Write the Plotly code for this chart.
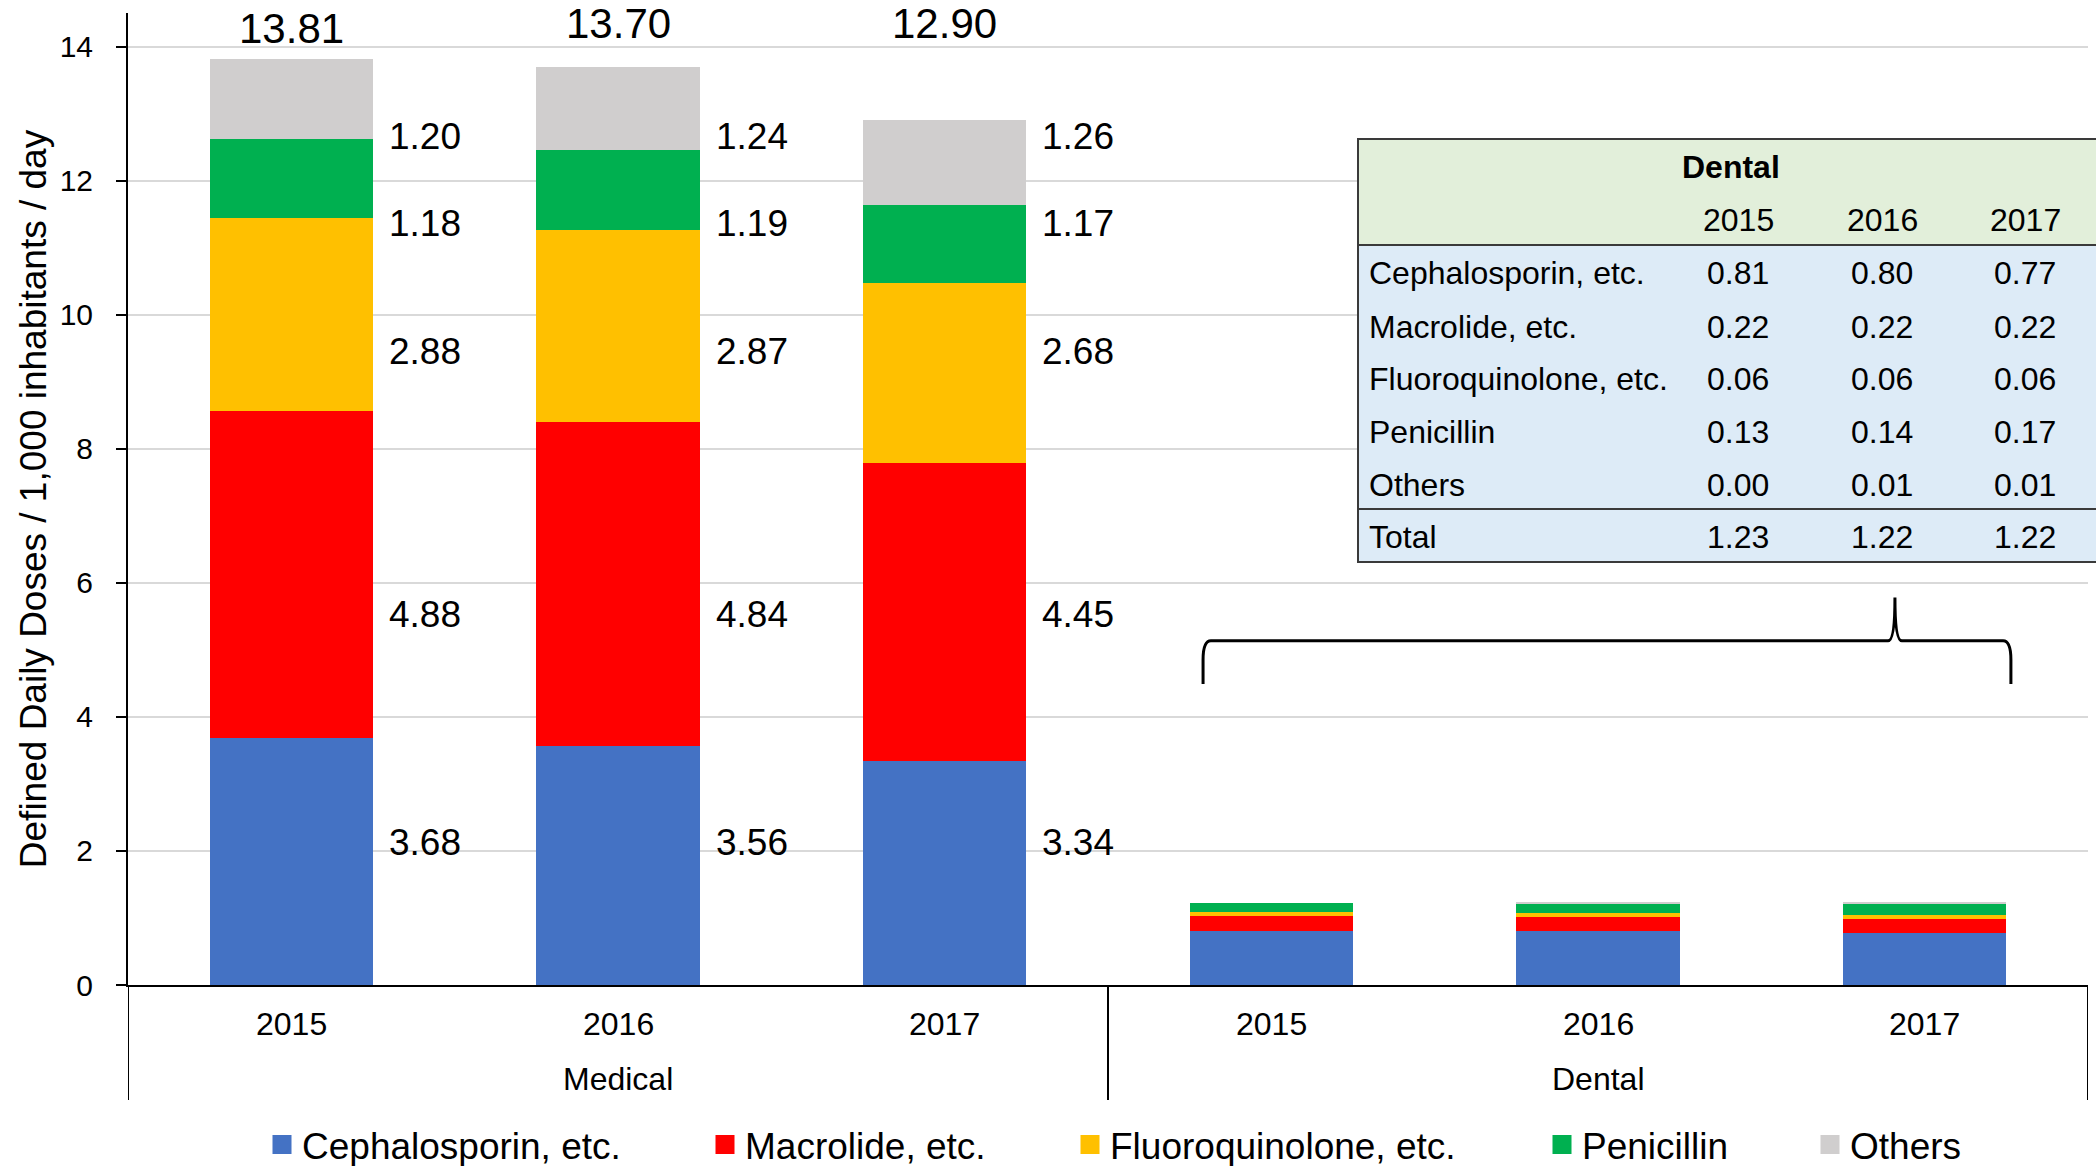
import plotly.graph_objects as go

# ---- data -------------------------------------------------------------
groups = ["Medical", "Medical", "Medical", "Dental", "Dental", "Dental"]
years = ["2015", "2016", "2017", "2015", "2016", "2017"]
classes = ["Cephalosporin, etc.", "Macrolide, etc.", "Fluoroquinolone, etc.",
           "Penicillin", "Others"]
cephalosporin = [3.68, 3.56, 3.34, 0.81, 0.80, 0.77]
macrolide = [4.88, 4.84, 4.45, 0.22, 0.22, 0.22]
fluoroquinolone = [2.88, 2.87, 2.68, 0.06, 0.06, 0.06]
penicillin = [1.18, 1.19, 1.17, 0.13, 0.14, 0.17]
others = [1.20, 1.24, 1.26, 0.00, 0.01, 0.01]
totals = [13.81, 13.70, 12.90, 1.23, 1.22, 1.22]
table_years = ["2015", "2016", "2017"]

series = [cephalosporin, macrolide, fluoroquinolone, penicillin, others]
colors = ["#4472C4", "#FF0000", "#FFC000", "#00B050", "#D0CECE"]

# ---- layout constants -------------------------------------------------
W, H = 2096, 1166
ML, MR, MT, MB = 128, 8, 13, 181
PW, PH = W - ML - MR, H - MT - MB
FONT = "Arial, 'Liberation Sans', sans-serif"


def paper_x(px):
    return (px - ML) / PW


def paper_y(py):
    return (H - MB - py) / PH


fig = go.Figure()

legend_names = ["legend", "legend2", "legend3", "legend4", "legend5"]
for name, vals, col, lg in zip(classes, series, colors, legend_names):
    fig.add_trace(go.Bar(
        x=[groups, years], y=vals, name=name, legendgroup=name,
        marker=dict(color=col, line=dict(width=0)),
        showlegend=False, hoverinfo="skip",
    ))
    # legend key: a larger square swatch than the default bar icon
    fig.add_trace(go.Scatter(
        x=[None], y=[None], xaxis="x2", name=name, legendgroup=name,
        mode="markers", legend=lg, showlegend=True, hoverinfo="skip",
        marker=dict(symbol="square", size=16, color=col,
                    line=dict(color=col, width=3)),
    ))

annotations = []
shapes = []

# category labels under the axis: years, then the group names
for i, yr in enumerate(years):
    annotations.append(dict(
        x=i, y=paper_y(1024), xref="x2", yref="paper", text=yr,
        showarrow=False, xanchor="center", yanchor="middle",
        font=dict(size=32, color="black", family=FONT)))
for gi, g in enumerate(["Medical", "Dental"]):
    annotations.append(dict(
        x=3 * gi + 1, y=paper_y(1079), xref="x2", yref="paper", text=g,
        showarrow=False, xanchor="center", yanchor="middle",
        font=dict(size=32, color="black", family=FONT)))
for xb in [-0.5, 2.5, 5.5]:
    shapes.append(dict(type="line", xref="x2", yref="paper",
                       x0=xb, x1=xb, y0=0, y1=paper_y(1100),
                       line=dict(color="black", width=2)))

# value labels beside the medical stacks (fixed heights per class row)
label_y = [2.12, 5.52, 9.45, 11.36, 12.66]
for i in range(3):
    for k, vals in enumerate(series):
        annotations.append(dict(
            x=i + 0.25, y=label_y[k], xref="x2", yref="y",
            text=f"{vals[i]:.2f}", showarrow=False,
            xanchor="left", yanchor="middle", xshift=14,
            font=dict(size=37, color="black", family=FONT),
        ))
    annotations.append(dict(
        x=i, y=[14.27, 14.35, 14.35][i], xref="x2", yref="y",
        text=f"{totals[i]:.2f}", showarrow=False,
        xanchor="center", yanchor="middle",
        font=dict(size=42, color="black", family=FONT),
    ))

# ---- inset table of dental values -------------------------------------
tbl_left, tbl_right = 1358, 2110
tbl_top, tbl_head, tbl_tot, tbl_bot = 139, 245, 509, 562
col_x = [1738, 1882, 2025]
row_y = [273, 327, 379, 432, 485]
shapes += [
    dict(type="rect", xref="paper", yref="paper",
         x0=paper_x(tbl_left), x1=paper_x(tbl_right),
         y0=paper_y(tbl_head), y1=paper_y(tbl_top),
         fillcolor="#E2EFDA", line=dict(width=0), layer="above"),
    dict(type="rect", xref="paper", yref="paper",
         x0=paper_x(tbl_left), x1=paper_x(tbl_right),
         y0=paper_y(tbl_bot), y1=paper_y(tbl_head),
         fillcolor="#DDEBF7", line=dict(width=0), layer="above"),
    dict(type="rect", xref="paper", yref="paper",
         x0=paper_x(tbl_left), x1=paper_x(tbl_right),
         y0=paper_y(tbl_bot), y1=paper_y(tbl_top),
         fillcolor="rgba(0,0,0,0)", line=dict(color="#3A3A3A", width=2),
         layer="above"),
    dict(type="line", xref="paper", yref="paper",
         x0=paper_x(tbl_left), x1=paper_x(tbl_right),
         y0=paper_y(tbl_head), y1=paper_y(tbl_head),
         line=dict(color="#3A3A3A", width=2), layer="above"),
    dict(type="line", xref="paper", yref="paper",
         x0=paper_x(tbl_left), x1=paper_x(tbl_right),
         y0=paper_y(tbl_tot), y1=paper_y(tbl_tot),
         line=dict(color="#3A3A3A", width=2), layer="above"),
]

tfont = dict(size=32, color="black", family=FONT)
annotations.append(dict(
    x=paper_x(1731), y=paper_y(167), xref="paper", yref="paper",
    text="<b>Dental</b>", showarrow=False, xanchor="center", yanchor="middle",
    font=tfont))
for j, yr in enumerate(table_years):
    annotations.append(dict(
        x=paper_x(col_x[j]), y=paper_y(220), xref="paper", yref="paper",
        text=yr, showarrow=False, xanchor="center", yanchor="middle",
        font=tfont))
for k, (name, vals) in enumerate(zip(classes, series)):
    annotations.append(dict(
        x=paper_x(1367), y=paper_y(row_y[k]), xref="paper", yref="paper",
        text=name, showarrow=False, xanchor="left", yanchor="middle",
        font=tfont))
    for j in range(3):
        annotations.append(dict(
            x=paper_x(col_x[j]), y=paper_y(row_y[k]), xref="paper",
            yref="paper", text=f"{vals[3 + j]:.2f}", showarrow=False,
            xanchor="center", yanchor="middle", font=tfont))
annotations.append(dict(
    x=paper_x(1367), y=paper_y(537), xref="paper", yref="paper",
    text="Total", showarrow=False, xanchor="left", yanchor="middle",
    font=tfont))
for j in range(3):
    annotations.append(dict(
        x=paper_x(col_x[j]), y=paper_y(537), xref="paper", yref="paper",
        text=f"{totals[3 + j]:.2f}", showarrow=False,
        xanchor="center", yanchor="middle", font=tfont))

# ---- curly brace over the dental stacks -------------------------------
brace = ("M 2.791 4.49 L 2.791 4.85 Q 2.791 5.134 2.815 5.134 "
         "L 4.888 5.134 Q 4.909 5.134 4.909 5.78 "
         "Q 4.909 5.134 4.930 5.134 L 5.240 5.134 "
         "Q 5.264 5.134 5.264 4.85 L 5.264 4.49")
shapes.append(dict(type="path", xref="x2", yref="y", path=brace,
                   line=dict(color="black", width=3), layer="above"))

# ---- one legend per entry so each sits at its own spot ---------------
legend_text_x = [302, 745, 1110, 1582, 1850]
legends = {}
for lg, tx in zip(legend_names, legend_text_x):
    legends[lg] = dict(
        x=paper_x(tx - 40), y=paper_y(1145), xanchor="left",
        yanchor="middle", orientation="h", bgcolor="rgba(0,0,0,0)",
        font=dict(size=37, color="black", family=FONT),
        itemclick=False, itemdoubleclick=False,
    )

fig.update_layout(
    width=W, height=H,
    margin=dict(l=ML, r=MR, t=MT, b=MB, pad=0, autoexpand=False),
    paper_bgcolor="white", plot_bgcolor="white",
    barmode="stack", bargap=0.5,
    font=dict(family=FONT, color="black"),
    showlegend=True,
    annotations=annotations, shapes=shapes,
    xaxis=dict(
        type="multicategory", showline=True, linecolor="black",
        linewidth=2, ticks="", showticklabels=False, showdividers=False,
        showgrid=False, zeroline=False,
    ),
    xaxis2=dict(overlaying="x", range=[-0.5, 5.5], visible=False,
                fixedrange=True),
    yaxis=dict(
        range=[0, 14.5], dtick=2, showgrid=True, gridcolor="#D9D9D9",
        gridwidth=2, showline=True, linecolor="black", linewidth=2,
        ticks="outside", ticklen=10, tickwidth=2, tickcolor="black",
        tickfont=dict(size=30, color="black", family=FONT),
        ticklabelstandoff=17, zeroline=False,
        title=dict(text="Defined Daily Doses / 1,000 inhabitants / day",
                   font=dict(size=37, color="black", family=FONT),
                   standoff=2),
    ),
    **legends,
)

fig.write_html("out.html")
